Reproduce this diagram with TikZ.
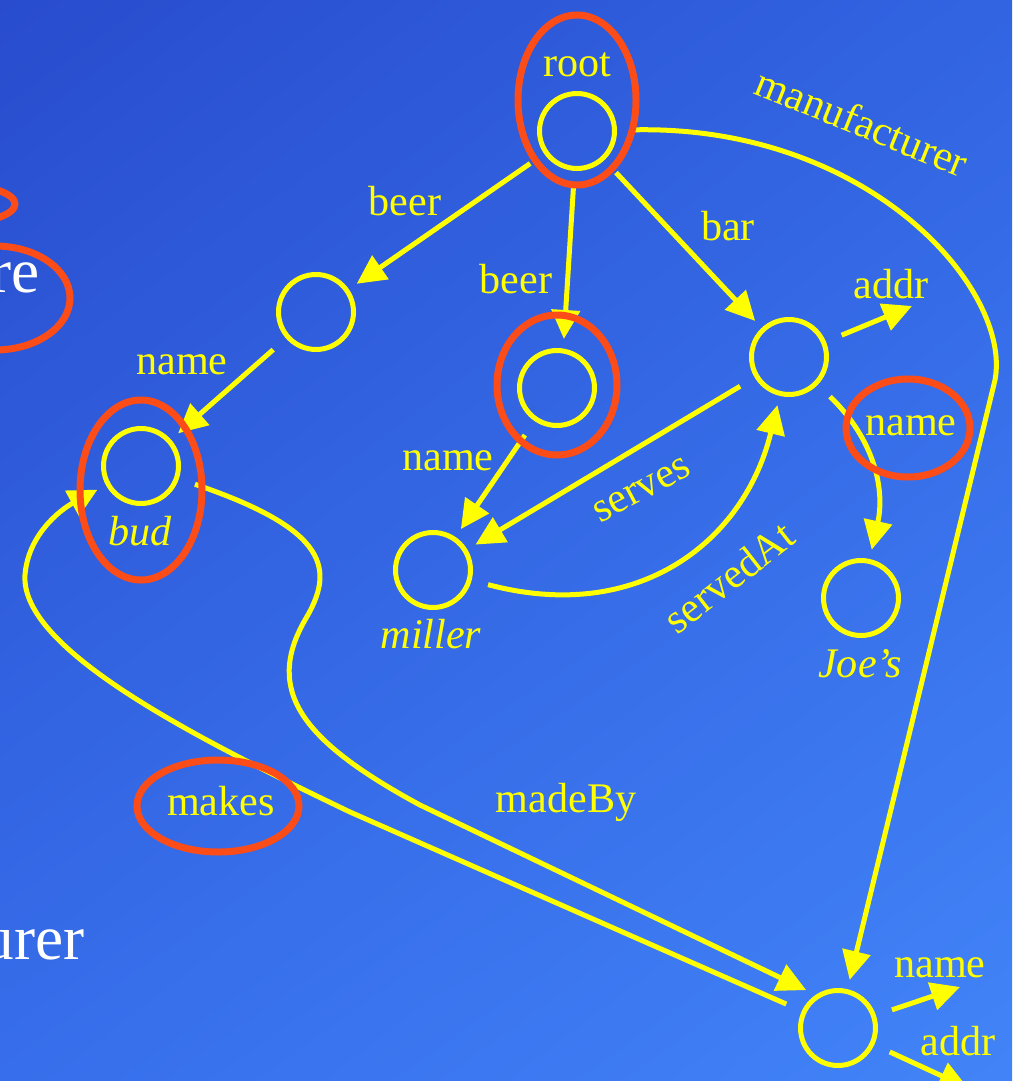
\documentclass[tikz,border=0pt]{standalone}
\usepackage{fontspec}
\setmainfont{Liberation Serif}
\usetikzlibrary{arrows.meta,shadings}
\definecolor{bgUL}{RGB}{40,76,205}
\definecolor{bgUR}{RGB}{50,100,226}
\definecolor{bgLL}{RGB}{55,110,235}
\definecolor{bgLR}{RGB}{66,132,248}
\definecolor{ringred}{RGB}{252,76,24}
\definecolor{edgeyellow}{RGB}{255,255,0}
\begin{document}
\begin{tikzpicture}[x=0.02cm, y=-0.02cm,
    obj/.style={circle, draw=edgeyellow, line width=0.1cm, minimum size=1.5cm, inner sep=0pt, outer sep=0.24cm},
    link/.style={draw=edgeyellow, line width=0.1cm, -{Triangle[length=0.58cm,width=0.56cm]}, shorten <=0.15cm},
    lbl/.style={text=edgeyellow, font=\fontsize{24}{28}\selectfont, inner sep=0pt, anchor=base},
    slide/.style={text=white, font=\fontsize{36}{40}\selectfont, inner sep=0pt, anchor=base east},
    hilite/.style={draw=ringred, line width=0.14cm}]
    \useasboundingbox (0,0) rectangle (1012,1081);
    \clip (0,0) rectangle (1012,1081);
    \shade [upper left=bgUL, upper right=bgUR, lower left=bgLL, lower right=bgLR] (0,0) rectangle (1012,1081);
    \node [slide] (frag1) at (40,292) {re};
    \node [slide] (frag2) at (85,959) {urer};

    \node [obj] (root) at (577,131) {};
    \node [obj] (beerA) at (316,312) {};
    \node [obj] (beerB) at (557,388) {};
    \node [obj] (bar) at (789,357) {};
    \node [obj] (bud) at (141,466) {};
    \node [obj] (miller) at (433,570) {};
    \node [obj] (joes) at (861,598) {};
    \node [obj] (maker) at (838,1028) {};
    \coordinate (barAddr) at (912,306);
    \coordinate (makerName) at (960,987);
    \coordinate (makerAddr) at (968,1088);

    \node [lbl] (lroot) at (577,77) {root};
    \node [lbl, font=\fontsize{24}{28}\selectfont\itshape] (lbud) at (140,545) {bud};
    \node [lbl, font=\fontsize{24}{28}\selectfont\itshape] (lmiller) at (431,648) {miller};
    \node [lbl, font=\fontsize{24}{28}\selectfont\itshape] (ljoes) at (860,677) {Joe’s};

    \draw [link] (root) -- (beerA);
    \draw [link] (root) -- (beerB.82);
    \draw [link] (root) -- (bar);
    \draw [link] (root) .. controls (870,125) and (1012,290) .. (995,380) -- (maker);
    \draw [link] (beerA) -- (bud);
    \draw [link] (beerB) -- (miller);
    \draw [link] (bar) -- (miller);
    \draw [link] (miller) .. controls (640,625) and (745,540) .. (bar);
    \draw [link] (bar) -- (barAddr);
    \draw [link] (bar) .. controls (875,440) and (885,490) .. (joes);
    \draw [link] (bud) .. controls (330,530) and (335,570) .. (305,620)
        .. controls (265,690) and (300,740) .. (420,805) -- (maker.130);
    \draw [link] (maker.155) -- (350,812) .. controls (200,740) and (20,650) .. (25,575)
        .. controls (28,535) and (60,510) .. (bud);
    \draw [link] (maker) -- (makerName);
    \draw [link] (maker) -- (makerAddr);

    \node [lbl] (lbeerA) at (405,215) {beer};
    \node [lbl] (lbeerB) at (516,293) {beer};
    \node [lbl] (lbar) at (728,240) {bar};
    \node [lbl, anchor=center, rotate=-22] (lmanuf) at (862,122) {manufacturer};
    \node [lbl] (lnameA) at (182,374) {name};
    \node [lbl] (lnameB) at (448,470) {name};
    \node [lbl, anchor=center, rotate=28] (lserves) at (642,490) {serves};
    \node [lbl, anchor=center, rotate=38] (lserved) at (729,577) {servedAt};
    \node [lbl] (laddrA) at (891,298) {addr};
    \node [lbl] (lnameC) at (911,435) {name};
    \node [lbl] (lmakes) at (221,815) {makes};
    \node [lbl] (lmadeby) at (566,812) {madeBy};
    \node [lbl] (lnameD) at (940,977) {name};
    \node [lbl] (laddrB) at (958,1055) {addr};

    \draw [hilite] (577,100) ellipse (59 and 85);
    \draw [hilite] (557,385) ellipse (60 and 70);
    \draw [hilite] (141,490) ellipse (61 and 90);
    \draw [hilite] (908,428) ellipse (62 and 49);
    \draw [hilite] (218,806) ellipse (81 and 46);
    \draw [hilite] (-5,298) ellipse (75 and 52);
    \draw [hilite] (-40,204) ellipse (55 and 19);
\end{tikzpicture}
\end{document}
